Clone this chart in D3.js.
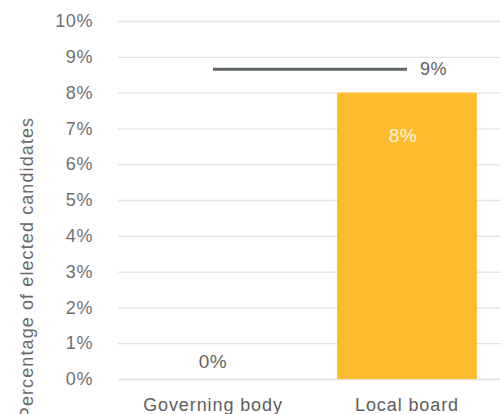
<!DOCTYPE html>
<html>
<head>
<meta charset="utf-8">
<script src="https://cdn.jsdelivr.net/npm/d3@7/dist/d3.min.js"></script>
<style>
  html, body { margin: 0; padding: 0; background: #fff; }
  svg { display: block; font-family: "Liberation Sans", Arial, sans-serif; }
</style>
</head>
<body>
<svg id="chart" width="500" height="414"></svg>
<script>
// Share of elected candidates by body
const categories = ["Governing body", "Local board"];
const barValues = [0, 0.08];
// Reference level drawn as a horizontal line across both categories
const lineValues = [0.0865, 0.0865];
const yTicks = [0, 0.01, 0.02, 0.03, 0.04, 0.05, 0.06, 0.07, 0.08, 0.09, 0.10];
const yTitle = "Percentage of elected candidates";

const svg = d3.select("#chart");
const pct = d3.format(".0%");

const y = d3.scaleLinear().domain([0, 0.10]).range([379, 21]);
const x = d3.scaleBand().domain(categories).range([116, 504])
  .paddingInner(0.28).paddingOuter(0.14);

// Gridlines and tick labels
const yAxis = d3.axisLeft(y).tickValues(yTicks).tickFormat(pct)
  .tickSize(-(504 - 118)).tickPadding(25);
const gy = svg.append("g").attr("transform", "translate(118,0)").call(yAxis);
gy.select(".domain").remove();
gy.selectAll(".tick line").attr("stroke", "#e3e3e3").attr("stroke-width", 1.3);
gy.selectAll(".tick text")
  .attr("fill", "#707070")
  .style("font-size", "18px")
  .style("letter-spacing", "0.6px");

// Bars
svg.append("g").selectAll("rect")
  .data(categories.map((c, i) => ({ c, v: barValues[i] })))
  .join("rect")
  .attr("x", d => x(d.c))
  .attr("width", x.bandwidth())
  .attr("y", d => y(d.v))
  .attr("height", d => y(0) - y(d.v))
  .attr("fill", "#fcbc2e");

// Bar value labels: inside the bar when it is tall enough, otherwise above the baseline
svg.append("g").selectAll("text")
  .data(categories.map((c, i) => ({ c, v: barValues[i] })))
  .join("text")
  .attr("x", d => x(d.c) + x.bandwidth() / 2 - (d.v > 0.01 ? 4 : 0))
  .attr("y", d => d.v > 0.01 ? y(d.v) + 49 : y(d.v) - 11)
  .attr("text-anchor", "middle")
  .attr("fill", d => d.v > 0.01 ? "#fff6dc" : "#666")
  .style("font-size", "19px")
  .style("letter-spacing", "0.6px")
  .text(d => pct(d.v));

// Reference line
const linePts = categories.map((c, i) => [x(c) + x.bandwidth() / 2, y(lineValues[i])]);
svg.append("path")
  .attr("d", d3.line()(linePts))
  .attr("stroke", "#5d6763")
  .attr("stroke-width", 3)
  .attr("fill", "none");

svg.append("text")
  .attr("x", linePts[1][0] + 13)
  .attr("y", linePts[1][1] + 6)
  .attr("fill", "#5e5e5e")
  .style("font-size", "18px")
  .style("letter-spacing", "0.6px")
  .text(pct(lineValues[1]));

// Category labels
svg.append("g").selectAll("text")
  .data(categories)
  .join("text")
  .attr("x", d => x(d) + x.bandwidth() / 2)
  .attr("y", 411)
  .attr("text-anchor", "middle")
  .attr("fill", "#5e5e5e")
  .style("font-size", "18px")
  .style("letter-spacing", "0.9px")
  .text(d => d);

// Y axis title
svg.append("text")
  .attr("transform", "translate(33,268) rotate(-90)")
  .attr("text-anchor", "middle")
  .attr("fill", "#6a6a6a")
  .style("font-size", "18px")
  .style("letter-spacing", "1.1px")
  .text(yTitle);
</script>
</body>
</html>
